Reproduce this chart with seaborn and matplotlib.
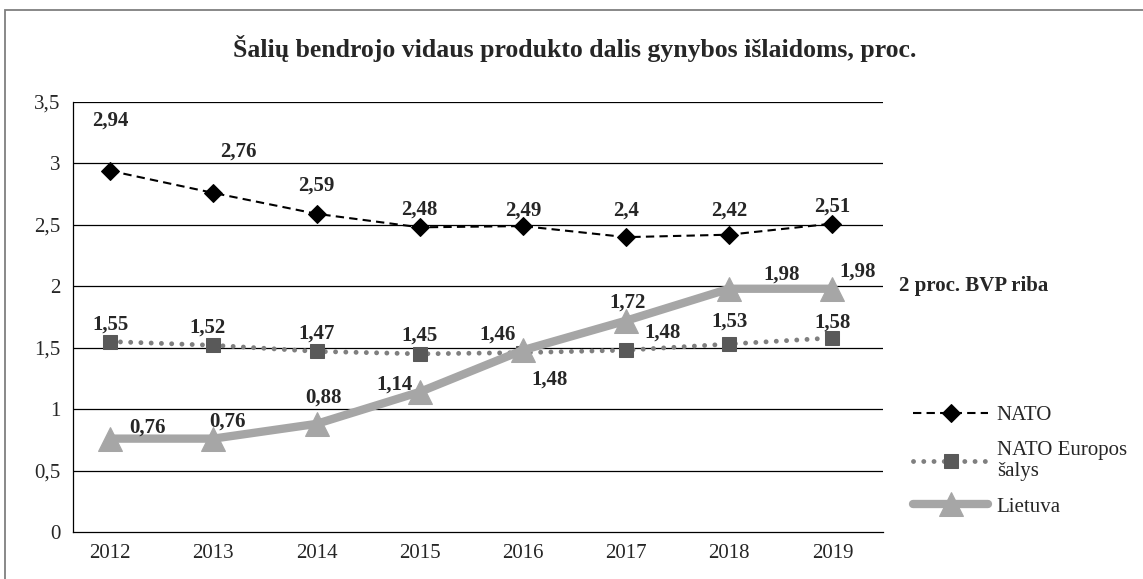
import pandas as pd
import matplotlib.pyplot as plt
import seaborn as sns
from matplotlib.patches import Rectangle

# duomenys
years = [2012, 2013, 2014, 2015, 2016, 2017, 2018, 2019]
nato = [2.94, 2.76, 2.59, 2.48, 2.49, 2.4, 2.42, 2.51]
nato_europe = [1.55, 1.52, 1.47, 1.45, 1.46, 1.48, 1.53, 1.58]
lietuva = [0.76, 0.76, 0.88, 1.14, 1.48, 1.72, 1.98, 1.98]
y_ticks = [0, 0.5, 1, 1.5, 2, 2.5, 3, 3.5]
title = "Šalių bendrojo vidaus produkto dalis gynybos išlaidoms, proc."
limit_label = "2 proc. BVP riba"

sns.set_style("white")
plt.rcParams['font.family'] = ['Liberation Serif', 'DejaVu Serif']

def fmt(v):
    """lithuanian decimal comma"""
    return ('%g' % v).replace('.', ',')

df = pd.DataFrame({'year': years, 'NATO': nato,
                   'NATO Europos\nšalys': nato_europe, 'Lietuva': lietuva})

fig = plt.figure(figsize=(11.43, 5.79), dpi=100)
ax = fig.add_axes([73 / 1143, 47 / 579, 810 / 1143, 430 / 579])

# horizontal grid
for t in y_ticks[1:]:
    ax.axhline(t, color='black', lw=0.9, zorder=0)

sns.lineplot(data=df, x='year', y='NATO Europos\nšalys', ax=ax, color='#7f7f7f',
             lw=3.5, linestyle=(0, (0.01, 2.1)), dash_capstyle='round',
             marker='s', markersize=10, markerfacecolor='#595959',
             markeredgecolor='#595959', label='NATO Europos\nšalys', zorder=3)
sns.lineplot(data=df, x='year', y='Lietuva', ax=ax, color='#a6a6a6', lw=6,
             marker='^', markersize=17, markerfacecolor='#a6a6a6',
             markeredgecolor='#a6a6a6', label='Lietuva', zorder=4)
sns.lineplot(data=df, x='year', y='NATO', ax=ax, color='black', lw=1.5,
             linestyle=(0, (4, 2.5)), marker='D', markersize=9,
             markerfacecolor='black', markeredgecolor='black',
             label='NATO', zorder=5)

# data labels with pixel offsets
off_nato = [(0, 36), (18, 30), (0, 20), (0, 13), (0, 11), (0, 19), (0, 17), (0, 12)]
off_eu = [(0, 12), (-4, 13), (0, 13), (0, 13), (-18, 13), (26, 13), (0, 16), (0, 11)]
off_lt = [(27, 8), (10, 12), (5, 19), (-18, 5), (19, -21), (1, 13), (38, 10), (18, 12)]
for vals, offs in [(nato, off_nato), (nato_europe, off_eu), (lietuva, off_lt)]:
    for x, v, (dx, dy) in zip(years, vals, offs):
        ax.annotate(fmt(v), (x, v), xytext=(dx, dy), textcoords='offset points',
                    ha='center', va='center', fontsize=15, fontweight='bold',
                    zorder=6)

ax.set_xlim(2011.64, 2019.49)
ax.set_ylim(0, 3.5)
ax.set_xticks(years)
ax.set_xticklabels([str(y) for y in years])
ax.set_yticks(y_ticks)
ax.set_yticklabels([fmt(t) for t in y_ticks])
ax.tick_params(axis='both', labelsize=15, length=0, pad=9)
ax.set_xlabel('')
ax.set_ylabel('')
sns.despine(ax=ax, top=True, right=True)
for s in ['left', 'bottom']:
    ax.spines[s].set_color('black')
    ax.spines[s].set_linewidth(0.9)

ax.text(1.02, 2, limit_label, transform=ax.get_yaxis_transform(),
        ha='left', va='center', fontsize=15, fontweight='bold', clip_on=False)

h, l = ax.get_legend_handles_labels()
order = [2, 0, 1]
ax.legend([h[i] for i in order], [l[i] for i in order], loc='upper left',
          bbox_to_anchor=(905 / 1143, 1 - 397 / 579), bbox_transform=fig.transFigure,
          frameon=False, fontsize=15, handlelength=3.6, labelspacing=0.75,
          handletextpad=0.4, borderaxespad=0)

fig.suptitle(title, x=0.503, y=1 - 48 / 579, va='center', fontsize=18.5,
             fontweight='bold')

fig.patches.append(Rectangle((5 / 1143, -0.1), 1.2, 1 - 10 / 579 + 0.1,
                             transform=fig.transFigure, fill=False,
                             edgecolor='#7f7f7f', lw=1.3))

fig.savefig('out.png', dpi=100)
